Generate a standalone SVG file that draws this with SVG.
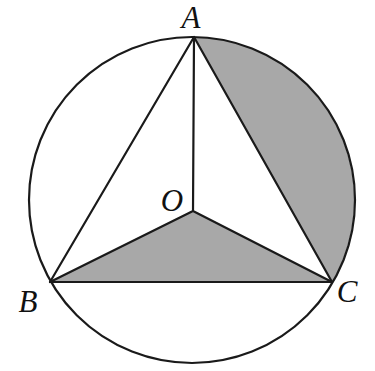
<svg xmlns="http://www.w3.org/2000/svg" width="375" height="371" viewBox="0 0 375 371">
<style>
.ln{stroke:#1a1a1a;stroke-width:2.2;fill:none;stroke-linejoin:round;stroke-linecap:round}
.sh{fill:#a8a8a8;stroke:none}
.lb{font-family:"Liberation Serif",serif;font-style:italic;font-size:31px;fill:#111;text-anchor:middle}
</style>
<rect width="375" height="371" fill="#fff"/>
<g id="shading">
<path class="sh" d="M193 211 L50 282 L332 282 Z"/>
<path class="sh" d="M194 37 A163 163 0 0 1 332 282 Z"/>
</g>
<g id="circle"><circle class="ln" cx="192" cy="200" r="163"/></g>
<g id="connectors">
<path class="ln" d="M194 37 L50 282 L332 282 Z"/>
<path class="ln" d="M194 37 L193 211 M193 211 L50 282 M193 211 L332 282"/>
</g>
<g id="A"><text class="lb" x="191" y="28">A</text></g>
<g id="O"><text class="lb" x="172" y="211">O</text></g>
<g id="B"><text class="lb" x="28" y="312">B</text></g>
<g id="C"><text class="lb" x="347" y="302">C</text></g>
</svg>
